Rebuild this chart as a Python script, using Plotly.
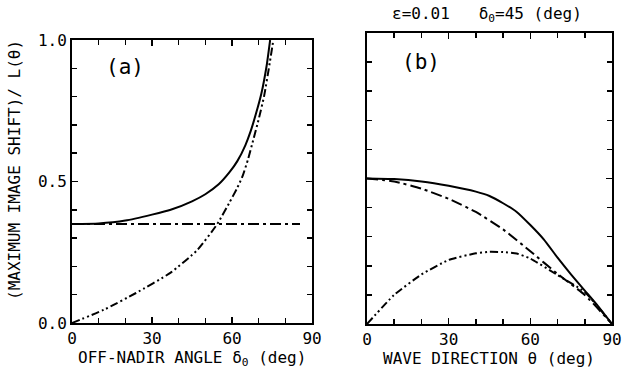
import plotly.graph_objects as go

# Panel (a): off-nadir angle
a_solid_x = [0, 10, 20, 30, 37, 45, 50, 55, 59, 62, 65, 67, 69, 71, 73, 74.3]
a_solid_y = [0.35, 0.352, 0.362, 0.383, 0.40, 0.43, 0.455, 0.49, 0.532, 0.572, 0.628, 0.678, 0.74, 0.81, 0.91, 1.0]
a_flat_x = [0, 85.5]
a_flat_y = [0.35, 0.35]
a_dd_x = [0, 12, 24, 37, 47, 54.5, 59, 62, 64, 66, 68, 70, 72, 74.25, 75.5]
a_dd_y = [0, 0.047, 0.106, 0.178, 0.258, 0.35, 0.425, 0.478, 0.52, 0.578, 0.648, 0.72, 0.80, 0.925, 1.0]

# Panel (b): wave direction
b_solid_x = [0, 10, 20, 30, 40, 45, 50, 55, 60, 65, 70, 75, 80, 85, 90]
b_solid_y = [0.5, 0.498, 0.49, 0.475, 0.455, 0.44, 0.415, 0.385, 0.34, 0.29, 0.228, 0.17, 0.115, 0.06, 0]
b_dash_x = [0, 10, 20, 30, 40, 50, 60, 70, 80, 90]
b_dash_y = [0.5, 0.49, 0.465, 0.43, 0.385, 0.325, 0.25, 0.172, 0.10, 0]
b_dd_x = [0, 10, 20, 30, 40, 45, 50, 55, 60, 70, 80, 90]
b_dd_y = [0, 0.1, 0.17, 0.22, 0.243, 0.248, 0.247, 0.242, 0.225, 0.168, 0.11, 0]

x_ticks = [0, 30, 60, 90]
y_ticks = [0.0, 0.5, 1.0]
y_ticklabels = ["0.0", "0.5", "1.0"]

FONT = "DejaVu Sans Mono"
DASHDOT = "11px,4px,3px,4px"
DASHDOTDOT = "8px,3px,2px,3px,2px,3px"

fig = go.Figure()

def add(x, y, dash, xa, ya):
    fig.add_trace(go.Scatter(x=x, y=y, mode="lines", xaxis=xa, yaxis=ya,
                             line=dict(color="black", width=2, dash=dash, shape="spline", smoothing=0.5),
                             showlegend=False, hoverinfo="skip"))

add(a_flat_x, a_flat_y, DASHDOT, "x", "y")
add(a_dd_x, a_dd_y, DASHDOTDOT, "x", "y")
add(a_solid_x, a_solid_y, "solid", "x", "y")
add(b_dash_x, b_dash_y, DASHDOT, "x2", "y2")
add(b_dd_x, b_dd_y, DASHDOTDOT, "x2", "y2")
add(b_solid_x, b_solid_y, "solid", "x2", "y2")

W, H = 625, 374
def dx(a, b):
    return [a / W, b / W]
def dy(top, bot):
    return [(H - bot) / H, (H - top) / H]

common_x = dict(range=[0, 90], tickvals=x_ticks, ticks="inside", ticklen=6, tickwidth=1.5,
                tickcolor="black", showline=True, linecolor="black", linewidth=2, mirror="ticks",
                showgrid=False, zeroline=False, automargin=False,
                tickfont=dict(family=FONT, size=16, color="black"),
                minor=dict(dtick=10, ticks="inside", ticklen=5, tickcolor="black", tickwidth=1.5, showgrid=False))
common_y = dict(range=[0, 1], ticks="inside", ticklen=6, tickwidth=1.5,
                tickcolor="black", showline=True, linecolor="black", linewidth=2, mirror="ticks",
                showgrid=False, zeroline=False, automargin=False,
                tickfont=dict(family=FONT, size=16, color="black"),
                minor=dict(dtick=0.1, ticks="inside", ticklen=5, tickcolor="black", tickwidth=1.5, showgrid=False))

fig.update_layout(
    width=W, height=H, margin=dict(l=0, r=0, t=0, b=0, autoexpand=False),
    paper_bgcolor="white", plot_bgcolor="white",
    xaxis=dict(domain=dx(72, 312), anchor="y", **common_x),
    yaxis=dict(domain=dy(40, 323), anchor="x", tickvals=y_ticks, ticktext=y_ticklabels, **common_y),
    xaxis2=dict(domain=dx(367, 612), anchor="y2", **common_x),
    yaxis2=dict(domain=dy(33, 324), anchor="x2", tickvals=y_ticks, showticklabels=False, **common_y),
)

ann_font = dict(family=FONT, size=16, color="black")

def ann(x, y, text, font=ann_font, angle=0):
    fig.add_annotation(x=x / W, y=1 - y / H, xref="paper", yref="paper", text=text,
                       textangle=angle, showarrow=False, font=font,
                       xanchor="center", yanchor="middle")

ann(14, 170, "(MAXIMUM IMAGE SHIFT)/ L(θ)", angle=-90)
ann(192, 358, "OFF-NADIR ANGLE δ<sub>0</sub> (deg)")
ann(489, 358, "WAVE DIRECTION θ (deg)")
ann(487, 14, "ε=0.01   δ<sub>0</sub>=45 (deg)")
ann(125, 67, "(a)", font=dict(family=FONT, size=21, color="black"))
ann(421, 62, "(b)", font=dict(family=FONT, size=21, color="black"))

fig.write_html("out.html", config={"displayModeBar": False, "staticPlot": True},
               post_script="document.body.style.margin='0';document.body.style.overflow='hidden';")
